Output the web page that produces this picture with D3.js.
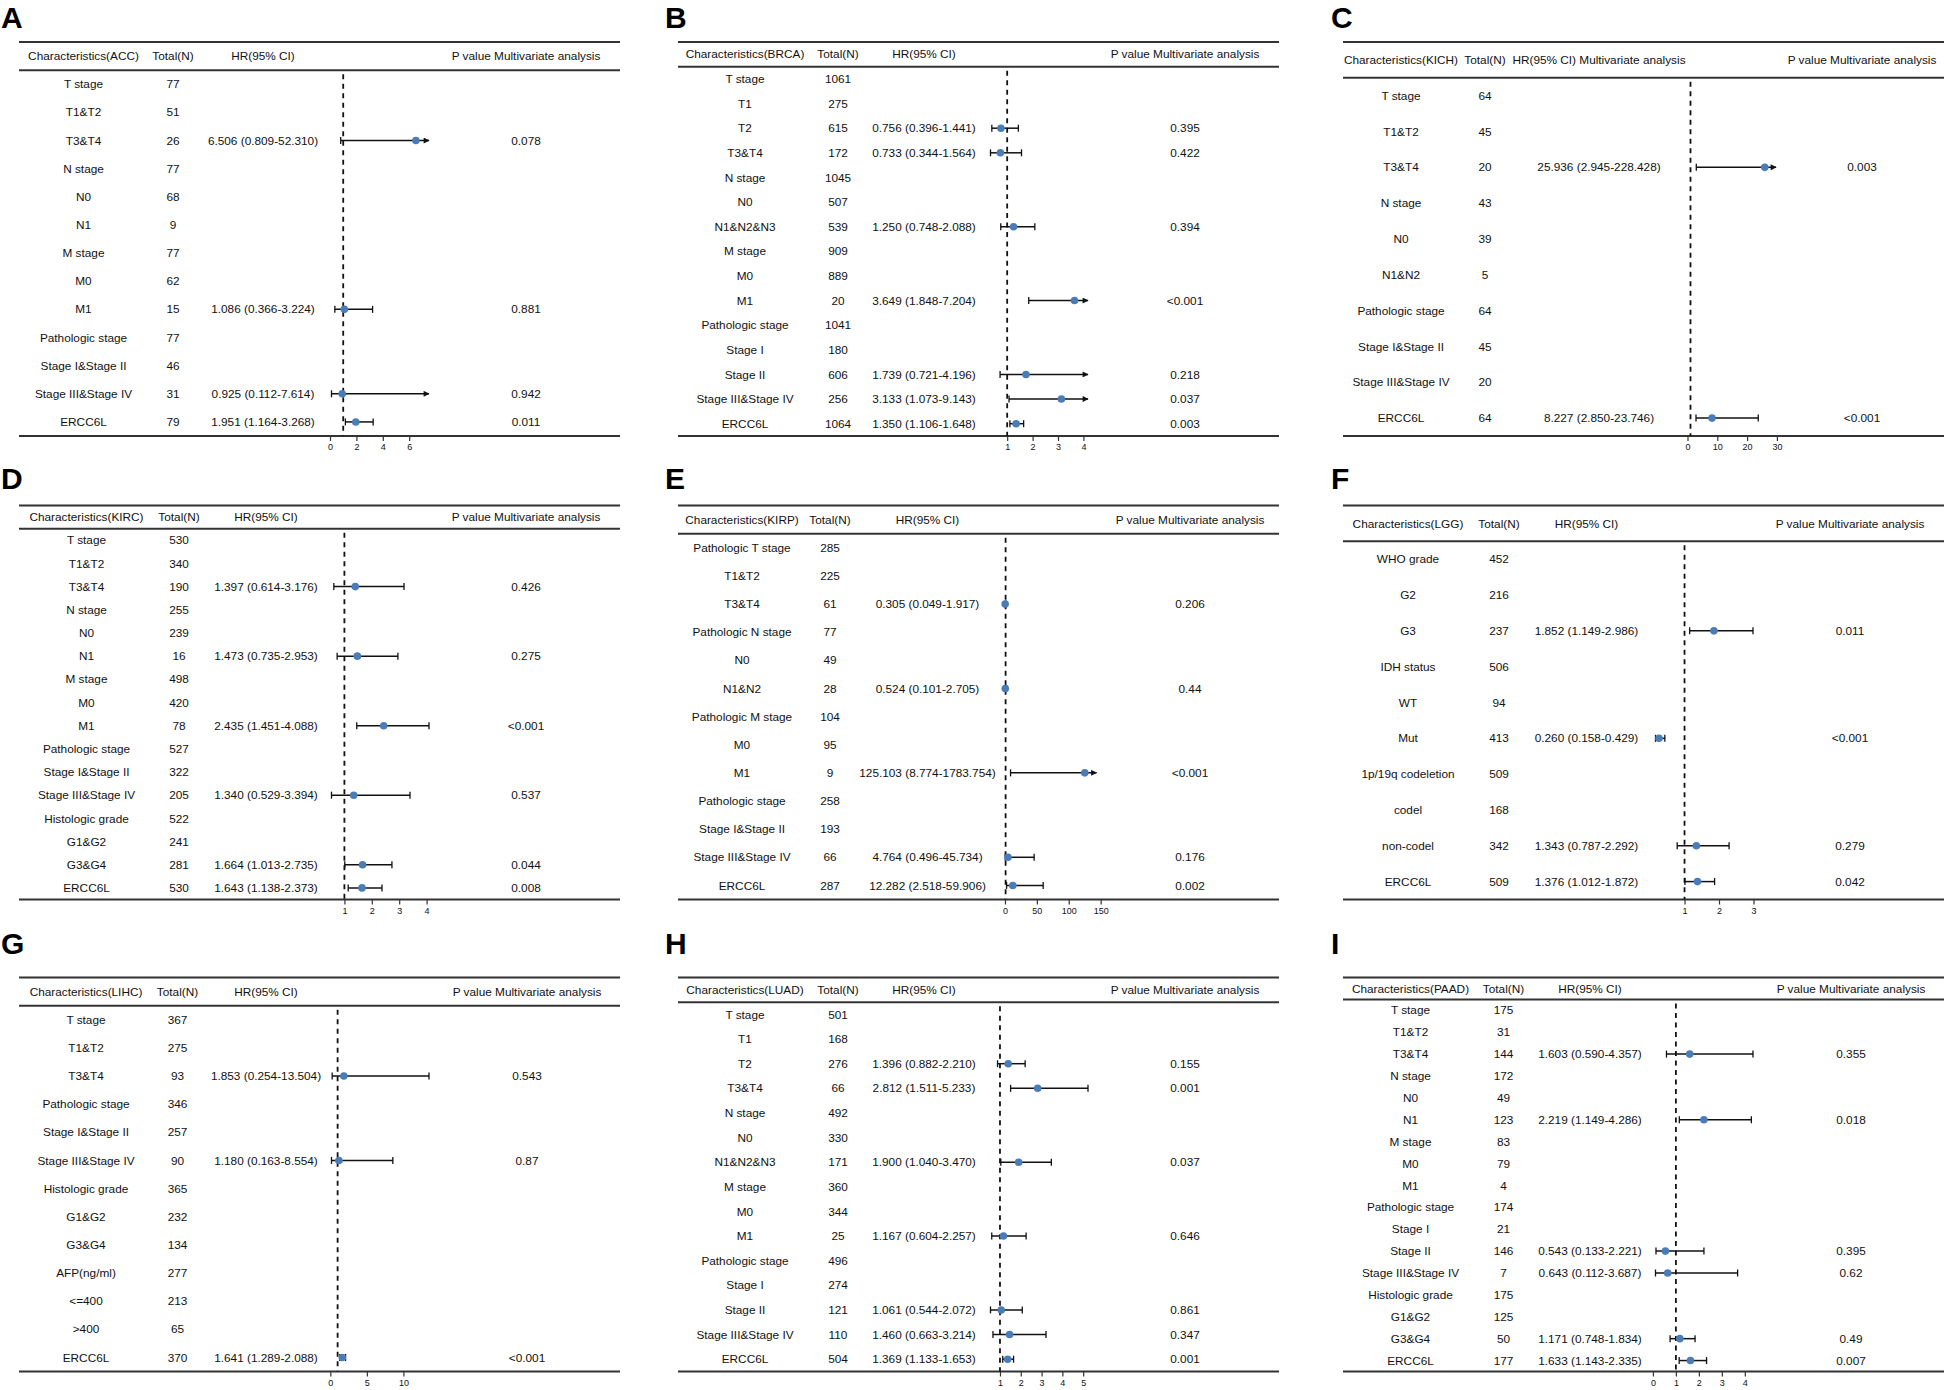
<!DOCTYPE html>
<html>
<head>
<meta charset="utf-8">
<script src="https://cdn.jsdelivr.net/npm/d3@7"></script>
<style>
  body { margin: 0; background: #fff; }
  text { font-family: 'Liberation Sans Narrow', 'Arial Narrow', sans-serif; fill: #111; }
  .letter { font-family: 'Liberation Sans', Arial, sans-serif; font-weight: bold; font-size: 30px; fill: #000; }
</style>
</head>
<body>
<script>

// Подписи панелей и типы опухолей
const panelLetters = ['A', 'B', 'C', 'D', 'E', 'F', 'G', 'H', 'I'];
const cancerTypes = ['ACC', 'BRCA', 'KICH', 'KIRC', 'KIRP', 'LGG', 'LIHC', 'LUAD', 'PAAD'];
const hrTitles = ['HR(95% CI)', 'HR(95% CI)', 'HR(95% CI) Multivariate analysis',
                  'HR(95% CI)', 'HR(95% CI)', 'HR(95% CI)', 'HR(95% CI)', 'HR(95% CI)', 'HR(95% CI)'];

// ACC
const accRows  = ['T stage', 'T1&T2', 'T3&T4', 'N stage', 'N0', 'N1', 'M stage', 'M0', 'M1',
                  'Pathologic stage', 'Stage I&Stage II', 'Stage III&Stage IV', 'ERCC6L'];
const accTotal = [77, 51, 26, 77, 68, 9, 77, 62, 15, 77, 46, 31, 79];
const accHR    = [null, null, 6.506, null, null, null, null, null, 1.086, null, null, 0.925, 1.951];
const accLow   = [null, null, 0.809, null, null, null, null, null, 0.366, null, null, 0.112, 1.164];
const accHigh  = [null, null, 52.310, null, null, null, null, null, 3.224, null, null, 7.614, 3.268];
const accP     = [null, null, '0.078', null, null, null, null, null, '0.881', null, null, '0.942', '0.011'];
const accTicks = [0, 2, 4, 6];
const accClip  = 7.5;

// BRCA
const brcaRows  = ['T stage', 'T1', 'T2', 'T3&T4', 'N stage', 'N0', 'N1&N2&N3', 'M stage', 'M0', 'M1',
                   'Pathologic stage', 'Stage I', 'Stage II', 'Stage III&Stage IV', 'ERCC6L'];
const brcaTotal = [1061, 275, 615, 172, 1045, 507, 539, 909, 889, 20, 1041, 180, 606, 256, 1064];
const brcaHR    = [null, null, 0.756, 0.733, null, null, 1.250, null, null, 3.649, null, null, 1.739, 3.133, 1.350];
const brcaLow   = [null, null, 0.396, 0.344, null, null, 0.748, null, null, 1.848, null, null, 0.721, 1.073, 1.106];
const brcaHigh  = [null, null, 1.441, 1.564, null, null, 2.088, null, null, 7.204, null, null, 4.196, 9.143, 1.648];
const brcaP     = [null, null, '0.395', '0.422', null, null, '0.394', null, null, '<0.001', null, null, '0.218', '0.037', '0.003'];
const brcaTicks = [1, 2, 3, 4];
const brcaClip  = 4.18;

// KICH
const kichRows  = ['T stage', 'T1&T2', 'T3&T4', 'N stage', 'N0', 'N1&N2', 'Pathologic stage',
                   'Stage I&Stage II', 'Stage III&Stage IV', 'ERCC6L'];
const kichTotal = [64, 45, 20, 43, 39, 5, 64, 45, 20, 64];
const kichHR    = [null, null, 25.936, null, null, null, null, null, null, 8.227];
const kichLow   = [null, null, 2.945, null, null, null, null, null, null, 2.850];
const kichHigh  = [null, null, 228.428, null, null, null, null, null, null, 23.746];
const kichP     = [null, null, '0.003', null, null, null, null, null, null, '<0.001'];
const kichTicks = [0, 10, 20, 30];
const kichClip  = 29.7;

// KIRC
const kircRows  = ['T stage', 'T1&T2', 'T3&T4', 'N stage', 'N0', 'N1', 'M stage', 'M0', 'M1',
                   'Pathologic stage', 'Stage I&Stage II', 'Stage III&Stage IV', 'Histologic grade',
                   'G1&G2', 'G3&G4', 'ERCC6L'];
const kircTotal = [530, 340, 190, 255, 239, 16, 498, 420, 78, 527, 322, 205, 522, 241, 281, 530];
const kircHR    = [null, null, 1.397, null, null, 1.473, null, null, 2.435, null, null, 1.340, null, null, 1.664, 1.643];
const kircLow   = [null, null, 0.614, null, null, 0.735, null, null, 1.451, null, null, 0.529, null, null, 1.013, 1.138];
const kircHigh  = [null, null, 3.176, null, null, 2.953, null, null, 4.088, null, null, 3.394, null, null, 2.735, 2.373];
const kircP     = [null, null, '0.426', null, null, '0.275', null, null, '<0.001', null, null, '0.537', null, null, '0.044', '0.008'];
const kircTicks = [1, 2, 3, 4];
const kircClip  = null;

// KIRP
const kirpRows  = ['Pathologic T stage', 'T1&T2', 'T3&T4', 'Pathologic N stage', 'N0', 'N1&N2',
                   'Pathologic M stage', 'M0', 'M1', 'Pathologic stage', 'Stage I&Stage II',
                   'Stage III&Stage IV', 'ERCC6L'];
const kirpTotal = [285, 225, 61, 77, 49, 28, 104, 95, 9, 258, 193, 66, 287];
const kirpHR    = [null, null, 0.305, null, null, 0.524, null, null, 125.103, null, null, 4.764, 12.282];
const kirpLow   = [null, null, 0.049, null, null, 0.101, null, null, 8.774, null, null, 0.496, 2.518];
const kirpHigh  = [null, null, 1.917, null, null, 2.705, null, null, 1783.754, null, null, 45.734, 59.906];
const kirpP     = [null, null, '0.206', null, null, '0.44', null, null, '<0.001', null, null, '0.176', '0.002'];
const kirpTicks = [0, 50, 100, 150];
const kirpClip  = 143.5;

// LGG
const lggRows  = ['WHO grade', 'G2', 'G3', 'IDH status', 'WT', 'Mut', '1p/19q codeletion',
                  'codel', 'non-codel', 'ERCC6L'];
const lggTotal = [452, 216, 237, 506, 94, 413, 509, 168, 342, 509];
const lggHR    = [null, null, 1.852, null, null, 0.260, null, null, 1.343, 1.376];
const lggLow   = [null, null, 1.149, null, null, 0.158, null, null, 0.787, 1.012];
const lggHigh  = [null, null, 2.986, null, null, 0.429, null, null, 2.292, 1.872];
const lggP     = [null, null, '0.011', null, null, '<0.001', null, null, '0.279', '0.042'];
const lggTicks = [1, 2, 3];
const lggClip  = null;

// LIHC
const lihcRows  = ['T stage', 'T1&T2', 'T3&T4', 'Pathologic stage', 'Stage I&Stage II',
                   'Stage III&Stage IV', 'Histologic grade', 'G1&G2', 'G3&G4', 'AFP(ng/ml)',
                   '<=400', '>400', 'ERCC6L'];
const lihcTotal = [367, 275, 93, 346, 257, 90, 365, 232, 134, 277, 213, 65, 370];
const lihcHR    = [null, null, 1.853, null, null, 1.180, null, null, null, null, null, null, 1.641];
const lihcLow   = [null, null, 0.254, null, null, 0.163, null, null, null, null, null, null, 1.289];
const lihcHigh  = [null, null, 13.504, null, null, 8.554, null, null, null, null, null, null, 2.088];
const lihcP     = [null, null, '0.543', null, null, '0.87', null, null, null, null, null, null, '<0.001'];
const lihcTicks = [0, 5, 10];
const lihcClip  = null;

// LUAD
const luadRows  = ['T stage', 'T1', 'T2', 'T3&T4', 'N stage', 'N0', 'N1&N2&N3', 'M stage', 'M0', 'M1',
                   'Pathologic stage', 'Stage I', 'Stage II', 'Stage III&Stage IV', 'ERCC6L'];
const luadTotal = [501, 168, 276, 66, 492, 330, 171, 360, 344, 25, 496, 274, 121, 110, 504];
const luadHR    = [null, null, 1.396, 2.812, null, null, 1.900, null, null, 1.167, null, null, 1.061, 1.460, 1.369];
const luadLow   = [null, null, 0.882, 1.511, null, null, 1.040, null, null, 0.604, null, null, 0.544, 0.663, 1.133];
const luadHigh  = [null, null, 2.210, 5.233, null, null, 3.470, null, null, 2.257, null, null, 2.072, 3.214, 1.653];
const luadP     = [null, null, '0.155', '0.001', null, null, '0.037', null, null, '0.646', null, null, '0.861', '0.347', '0.001'];
const luadTicks = [1, 2, 3, 4, 5];
const luadClip  = null;

// PAAD
const paadRows  = ['T stage', 'T1&T2', 'T3&T4', 'N stage', 'N0', 'N1', 'M stage', 'M0', 'M1',
                   'Pathologic stage', 'Stage I', 'Stage II', 'Stage III&Stage IV', 'Histologic grade',
                   'G1&G2', 'G3&G4', 'ERCC6L'];
const paadTotal = [175, 31, 144, 172, 49, 123, 83, 79, 4, 174, 21, 146, 7, 175, 125, 50, 177];
const paadHR    = [null, null, 1.603, null, null, 2.219, null, null, null, null, null, 0.543, 0.643, null, null, 1.171, 1.633];
const paadLow   = [null, null, 0.590, null, null, 1.149, null, null, null, null, null, 0.133, 0.112, null, null, 0.748, 1.143];
const paadHigh  = [null, null, 4.357, null, null, 4.286, null, null, null, null, null, 2.221, 3.687, null, null, 1.834, 2.335];
const paadP     = [null, null, '0.355', null, null, '0.018', null, null, null, null, null, '0.395', '0.62', null, null, '0.49', '0.007'];
const paadTicks = [0, 1, 2, 3, 4];
const paadClip  = null;

// Сводная таблица панелей (строится из массивов выше)
const panels = [
  [accRows, accTotal, accHR, accLow, accHigh, accP, accTicks, accClip],
  [brcaRows, brcaTotal, brcaHR, brcaLow, brcaHigh, brcaP, brcaTicks, brcaClip],
  [kichRows, kichTotal, kichHR, kichLow, kichHigh, kichP, kichTicks, kichClip],
  [kircRows, kircTotal, kircHR, kircLow, kircHigh, kircP, kircTicks, kircClip],
  [kirpRows, kirpTotal, kirpHR, kirpLow, kirpHigh, kirpP, kirpTicks, kirpClip],
  [lggRows, lggTotal, lggHR, lggLow, lggHigh, lggP, lggTicks, lggClip],
  [lihcRows, lihcTotal, lihcHR, lihcLow, lihcHigh, lihcP, lihcTicks, lihcClip],
  [luadRows, luadTotal, luadHR, luadLow, luadHigh, luadP, luadTicks, luadClip],
  [paadRows, paadTotal, paadHR, paadLow, paadHigh, paadP, paadTicks, paadClip]
].map(([rows, total, hr, low, high, p, ticks, clip], i) => ({
  letter: panelLetters[i], cancer: cancerTypes[i], hrTitle: hrTitles[i],
  rows, total, hr, low, high, p, ticks, clip
}));

/* ============================================ */

// Разметка
const width = 1944;
const height = 1390;
const colLeft = [19, 678, 1343];
const rowTop = [42, 505.5, 977.5];
const letterX = [1, 665, 1331];
const letterBase = [28, 489, 954];
const tableWidth = 601;
const tableHeight = 394;
const fontSize = '11.8px';

// Центры колонок: характеристика, N, HR, P
const colCenters = [
  [64.5, 154, 244, 507],
  [67, 160, 246, 507],
  [58, 142, 256, 519],
  [67.5, 160, 247, 507],
  [64, 152, 249.5, 512],
  [65, 156, 243.5, 507],
  [67, 158.5, 247, 508],
  [67, 160, 246, 507],
  [67.5, 160.5, 247, 508]
];

// Область графика внутри таблицы
const plotRanges = [
  [312.5, 410], [312.5, 410], [353, 433],
  [312.5, 410], [327, 418.5], [312.5, 410],
  [312.5, 410], [312.5, 410], [312.5, 410]
];

const fmt = d3.format('.3f');
const dotColor = '#4a7db8';
const ruleColor = '#333';

let svg = d3.select('body')
            .append('svg')
            .attr('width', width)
            .attr('height', height);

svg.append('defs').append('marker')
   .attr('id', 'arrow')
   .attr('viewBox', '0 0 10 10')
   .attr('refX', 9)
   .attr('refY', 5)
   .attr('markerUnits', 'userSpaceOnUse')
   .attr('markerWidth', 7)
   .attr('markerHeight', 6)
   .attr('orient', 'auto')
   .append('path')
   .attr('d', 'M0,0 L10,5 L0,10 Z')
   .attr('fill', '#111');

panels.forEach((panel, i) => {
  let col = i % 3;
  let row = Math.floor(i / 3);
  let cx = colCenters[i];

  // Буква панели
  svg.append('text')
     .attr('class', 'letter')
     .attr('x', letterX[col])
     .attr('y', letterBase[row])
     .text(panel.letter);

  let g = svg.append('g')
             .attr('transform', `translate(${colLeft[col]}, ${rowTop[row]})`);

  // Строки: заголовок + характеристики
  let yBand = d3.scaleBand()
                .domain(d3.range(panel.rows.length + 1))
                .range([0, tableHeight]);
  let yMid = k => yBand(k) + yBand.bandwidth() / 2;

  // Горизонтальные линии таблицы
  [0, yBand.bandwidth(), tableHeight].forEach(yy => {
    g.append('line')
     .attr('x1', 0).attr('x2', tableWidth)
     .attr('y1', yy).attr('y2', yy)
     .attr('stroke', ruleColor)
     .attr('stroke-width', 2);
  });

  // Заголовок
  let header = [`Characteristics(${panel.cancer})`, 'Total(N)', panel.hrTitle, 'P value Multivariate analysis'];
  header.forEach((t, k) => {
    g.append('text')
     .attr('x', cx[k])
     .attr('y', yMid(0))
     .attr('dy', '0.35em')
     .attr('text-anchor', 'middle')
     .style('font-size', fontSize)
     .text(t);
  });

  // Текстовые колонки
  panel.rows.forEach((name, k) => {
    let yy = yMid(k + 1);
    let cells = [name, panel.total[k],
                 panel.hr[k] == null ? null : `${fmt(panel.hr[k])} (${fmt(panel.low[k])}-${fmt(panel.high[k])})`,
                 panel.p[k]];
    cells.forEach((t, c) => {
      if (t == null) return;
      g.append('text')
       .attr('x', cx[c])
       .attr('y', yy)
       .attr('dy', '0.35em')
       .attr('text-anchor', 'middle')
       .style('font-size', fontSize)
       .text(t);
    });
  });

  // Шкала HR
  let lows = panel.low.filter(v => v != null);
  let highs = panel.high.filter(v => v != null);
  let xMax = panel.clip != null ? panel.clip : d3.max(highs);
  let xScale = d3.scaleLinear()
                 .domain([d3.min(lows), xMax])
                 .range(plotRanges[i]);

  // Линия HR = 1
  g.append('line')
   .attr('x1', xScale(1)).attr('x2', xScale(1))
   .attr('y1', yBand.bandwidth() + 4).attr('y2', tableHeight)
   .attr('stroke', '#111')
   .attr('stroke-width', 1.8)
   .attr('stroke-dasharray', '5,4.5');

  // Ось
  let axis = g.append('g')
              .attr('transform', `translate(0, ${tableHeight})`)
              .call(d3.axisBottom(xScale)
                      .tickValues(panel.ticks)
                      .tickFormat(d3.format('d'))
                      .tickSize(5)
                      .tickSizeOuter(0)
                      .tickPadding(3));
  axis.select('.domain').remove();
  axis.selectAll('.tick line').attr('stroke', ruleColor).attr('stroke-width', 1.2);
  axis.selectAll('.tick text')
      .style('font-family', "'Liberation Sans Narrow', 'Arial Narrow', sans-serif")
      .style('font-size', '9px')
      .attr('fill', '#111');

  // Доверительные интервалы и точки
  let est = panel.rows.map((name, k) => ({ k, hr: panel.hr[k], lo: panel.low[k], hi: panel.high[k] }))
                      .filter(d => d.hr != null);

  est.forEach(d => {
    let yy = yMid(d.k + 1);
    let clipped = d.hi > xMax;
    let xa = xScale(d.lo);
    let xb = xScale(Math.min(d.hi, xMax));

    let ci = g.append('line')
              .attr('x1', xa).attr('x2', xb)
              .attr('y1', yy).attr('y2', yy)
              .attr('stroke', '#111')
              .attr('stroke-width', 1.5);
    if (clipped) ci.attr('marker-end', 'url(#arrow)');

    // Засечки на концах
    let caps = clipped ? [xa] : [xa, xb];
    caps.forEach(xc => {
      g.append('line')
       .attr('x1', xc).attr('x2', xc)
       .attr('y1', yy - 3.5).attr('y2', yy + 3.5)
       .attr('stroke', '#111')
       .attr('stroke-width', 1.3);
    });

    g.append('circle')
     .attr('cx', xScale(d.hr))
     .attr('cy', yy)
     .attr('r', 3.8)
     .attr('fill', dotColor);
  });
});

</script>
</body>
</html>
